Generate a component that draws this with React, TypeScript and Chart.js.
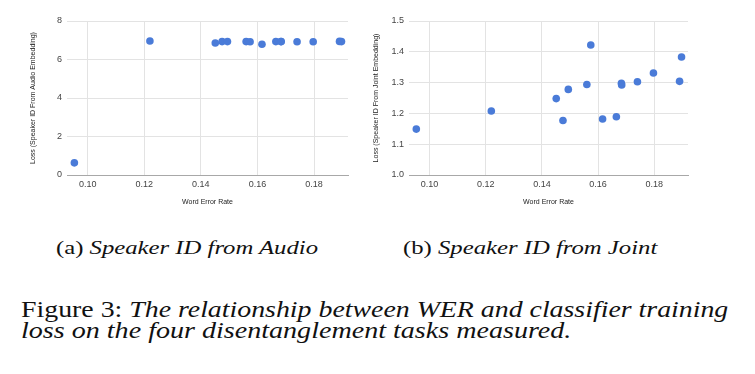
import React, { useEffect, useRef } from "react";
import { Chart, registerables } from "chart.js";

Chart.register(...registerables);

// Word error rate of each model (shared x values)
const wer = [0.0953, 0.122, 0.1451, 0.1475, 0.1494, 0.156, 0.1574, 0.1616, 0.1665, 0.1683, 0.1684, 0.174, 0.1797, 0.189, 0.1897];
// Loss of speaker-ID classifier from audio embedding
const lossAudio = [0.63, 6.96, 6.86, 6.93, 6.93, 6.93, 6.92, 6.79, 6.93, 6.93, 6.93, 6.92, 6.92, 6.94, 6.93];
// Loss of speaker-ID classifier from joint embedding
const lossJoint = [1.149, 1.208, 1.248, 1.177, 1.278, 1.294, 1.422, 1.182, 1.189, 1.298, 1.292, 1.303, 1.331, 1.304, 1.383];

const xTicks = [0.1, 0.12, 0.14, 0.16, 0.18];
const yTicksAudio = [0, 2, 4, 6, 8];
const yTicksJoint = [1.0, 1.1, 1.2, 1.3, 1.4, 1.5];

const xTitle = "Word Error Rate";
const yTitleAudio = "Loss (Speaker ID From Audio Embedding)";
const yTitleJoint = "Loss (Speaker ID From Joint Embedding)";

const POINT = "#4a7bd8";
const SANS = "'Liberation Sans', Arial, sans-serif";
const SERIF = "'Liberation Serif', 'Times New Roman', serif";

type Props = {
  ys: number[];
  yTicks: number[];
  yMin: number;
  yMax: number;
  yDigits: number;
  yTitle: string;
  left: number;
  width: number;
  padLeft: number;
  padRight: number;
  yAxisWidth: number;
  yTitlePad: number;
};

function Scatter(p: Props) {
  const ref = useRef<HTMLCanvasElement | null>(null);
  useEffect(() => {
    if (!ref.current) return;
    const chart = new Chart(ref.current, {
      type: "scatter",
      data: {
        datasets: [
          {
            data: wer.map((x, i) => ({ x, y: p.ys[i] })),
            backgroundColor: POINT,
            borderColor: POINT,
            pointRadius: 3.8,
            pointBorderWidth: 0,
          },
        ],
      },
      options: {
        animation: false,
        responsive: false,
        devicePixelRatio: 1,
        layout: { padding: { left: p.padLeft, right: p.padRight, top: 21, bottom: 5 } },
        plugins: { legend: { display: false }, tooltip: { enabled: false } },
        scales: {
          x: {
            type: "linear",
            min: 0.0927,
            max: 0.192,
            afterBuildTicks: (s: any) => {
              s.ticks = xTicks.map((v) => ({ value: v }));
            },
            afterFit: (s: any) => {
              s.height = 35;
            },
            grid: { color: "#e3e3e3", drawTicks: false, lineWidth: 1 },
            border: { display: true, color: "#a8a8a8" },
            ticks: {
              padding: 4,
              color: "#444",
              font: { family: SANS, size: 9 },
              callback: (v: any) => Number(v).toFixed(2),
            },
            title: {
              display: true,
              text: xTitle,
              color: "#222",
              font: { family: SANS, size: 7 },
              padding: { top: 0, bottom: 4 },
            },
          },
          y: {
            type: "linear",
            min: p.yMin,
            max: p.yMax,
            afterBuildTicks: (s: any) => {
              s.ticks = p.yTicks.map((v) => ({ value: v }));
            },
            afterFit: (s: any) => {
              s.width = p.yAxisWidth;
            },
            grid: { color: "#e3e3e3", drawTicks: false, lineWidth: 1 },
            border: { display: false },
            ticks: {
              padding: 5,
              color: "#444",
              font: { family: SANS, size: 9 },
              callback: (v: any) => Number(v).toFixed(p.yDigits),
            },
            title: {
              display: true,
              text: p.yTitle,
              color: "#222",
              font: { family: SANS, size: 7 },
              padding: { top: p.yTitlePad, bottom: 0 },
            },
          },
        },
      },
    });
    return () => chart.destroy();
  }, []);
  return (
    <canvas
      ref={ref}
      width={p.width}
      height={215}
      style={{ position: "absolute", left: p.left, top: 0, width: p.width, height: 215 }}
    />
  );
}

export default function App() {
  const cap = (left: number, top: number, size: number, sx: number): React.CSSProperties => ({
    position: "absolute",
    left,
    top,
    fontSize: size,
    fontFamily: SERIF,
    color: "#111",
    whiteSpace: "nowrap",
    lineHeight: 1,
    transform: `scaleX(${sx})`,
    transformOrigin: "0 0",
  });
  return (
    <div
      style={{
        position: "absolute",
        left: 0,
        top: 0,
        width: 755,
        height: 374,
        background: "#fff",
        overflow: "hidden",
      }}
    >
      <Scatter
        ys={lossAudio}
        yTicks={yTicksAudio}
        yMin={0}
        yMax={8}
        yDigits={0}
        yTitle={yTitleAudio}
        left={0}
        width={370}
        padLeft={25}
        padRight={22}
        yAxisWidth={42}
        yTitlePad={4}
      />
      <Scatter
        ys={lossJoint}
        yTicks={yTicksJoint}
        yMin={1.0}
        yMax={1.5}
        yDigits={1}
        yTitle={yTitleJoint}
        left={370}
        width={385}
        padLeft={0}
        padRight={67}
        yAxisWidth={39}
        yTitlePad={2}
      />
      <div style={cap(56, 238, 19, 1.3)}>
        (a) <i>Speaker ID from Audio</i>
      </div>
      <div style={cap(403, 238, 19, 1.3)}>
        (b) <i>Speaker ID from Joint</i>
      </div>
      <div style={cap(21, 296.6, 24, 1.16)}>
        Figure 3: <i>The relationship between WER and classifier training</i>
      </div>
      <div style={cap(21, 318.2, 24, 1.17)}>
        <i>loss on the four disentanglement tasks measured.</i>
      </div>
    </div>
  );
}
